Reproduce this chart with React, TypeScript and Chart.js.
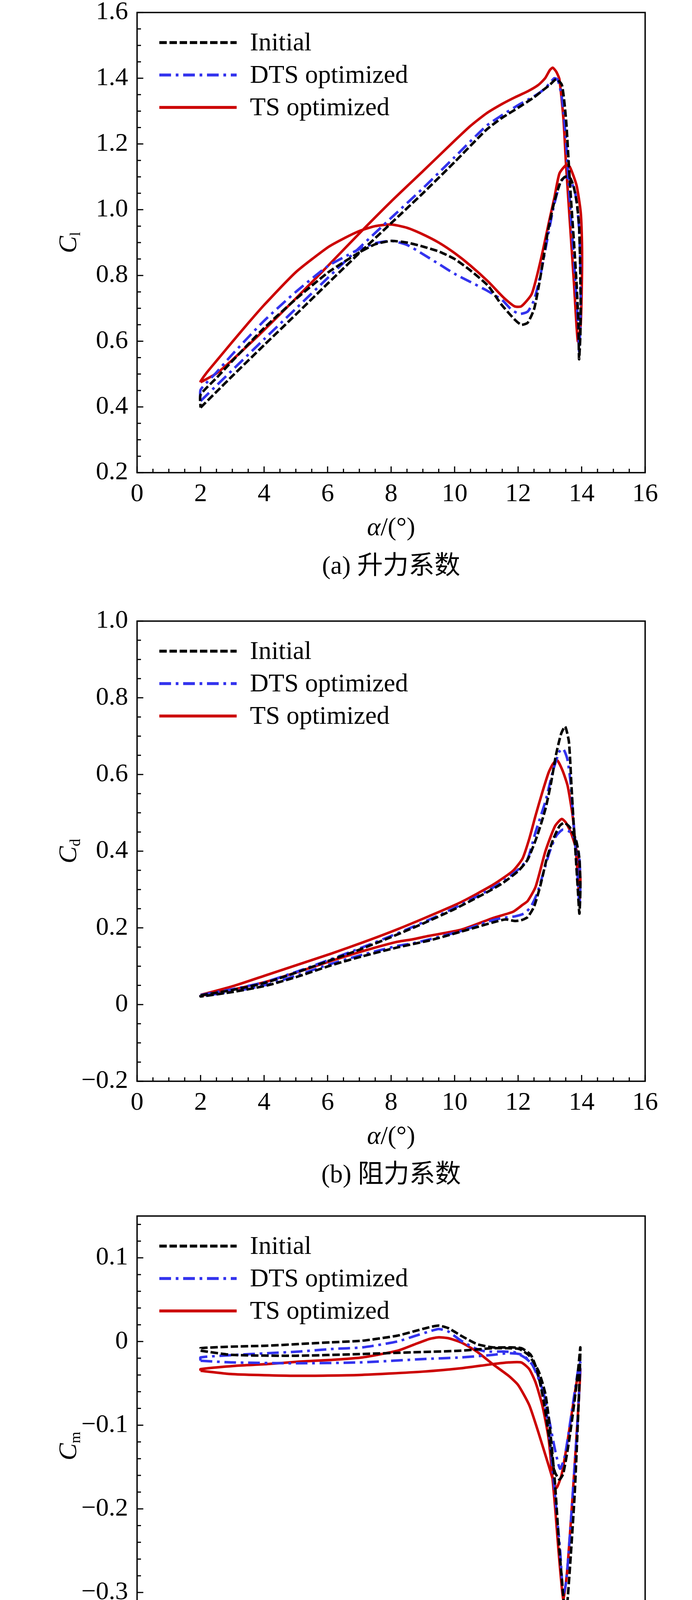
import React, { useEffect, useRef } from 'react'
import { Chart, registerables } from 'chart.js'

Chart.register(...registerables)

const SERIF = "'Liberation Serif', 'Noto Sans CJK SC', serif"

// series shown in every panel
const seriesNames = ['Initial', 'DTS optimized', 'TS optimized']
const seriesColors = ['#000000', '#3333ee', '#cc0000']
const seriesDashes = [[19, 7], [30, 12, 7, 12], []]

// shared x axis
const xTicks = [0, 2, 4, 6, 8, 10, 12, 14, 16]
const xTickLabels = ['0', '2', '4', '6', '8', '10', '12', '14', '16']

// (a) lift coefficient, [alpha, Cl] around each loop
const clInitial: [number, number][] = [
  [2, 0.398], [2.5, 0.446], [3, 0.494], [4, 0.588], [5, 0.681], [6, 0.775], [7, 0.868], [8, 0.959],
  [9, 1.05], [10, 1.145], [11, 1.243], [11.5, 1.28], [12, 1.31], [12.5, 1.342], [12.8, 1.365],
  [13, 1.38], [13.2, 1.397], [13.38, 1.379], [13.51, 1.273], [13.59, 1.148], [13.67, 1.024],
  [13.76, 0.899], [13.84, 0.775], [13.9, 0.65], [13.92, 0.545], [13.96, 0.62], [13.97, 0.712],
  [13.95, 0.85], [13.92, 0.95], [13.85, 1.02], [13.75, 1.07], [13.65, 1.095], [13.55, 1.102],
  [13.45, 1.098], [13.34, 1.086], [13.14, 1.024], [12.93, 0.93], [12.72, 0.806], [12.51, 0.7],
  [12.3, 0.656], [12.1, 0.65], [11.9, 0.665], [11.47, 0.712], [11.06, 0.768], [10.5, 0.815],
  [10, 0.85], [9.5, 0.873], [9, 0.888], [8.5, 0.9], [8, 0.905], [7.5, 0.895], [7, 0.87],
  [6.5, 0.84], [6, 0.808], [5, 0.728], [4, 0.64], [3, 0.54], [2.5, 0.488], [2, 0.437], [2, 0.398],
]
const clDts: [number, number][] = [
  [2, 0.418], [2.5, 0.465], [3, 0.512], [4, 0.606], [5, 0.699], [6, 0.792], [7, 0.884], [8, 0.975],
  [9, 1.065], [10, 1.16], [11, 1.255], [11.5, 1.288], [12, 1.318], [12.5, 1.345], [12.8, 1.365],
  [13, 1.385], [13.14, 1.4], [13.25, 1.395], [13.38, 1.34], [13.5, 1.22], [13.58, 1.1],
  [13.66, 0.98], [13.75, 0.86], [13.83, 0.74], [13.9, 0.63], [13.92, 0.569], [13.96, 0.65],
  [13.97, 0.75], [13.95, 0.87], [13.9, 0.97], [13.8, 1.05], [13.65, 1.09], [13.47, 1.1],
  [13.3, 1.075], [13.1, 1.0], [12.9, 0.9], [12.7, 0.8], [12.5, 0.725], [12.3, 0.69], [12.05, 0.683],
  [11.8, 0.695], [11.5, 0.725], [11, 0.755], [10.5, 0.78], [10, 0.805], [9.5, 0.835], [9, 0.865],
  [8.5, 0.893], [8, 0.905], [7.5, 0.898], [7, 0.88], [6.5, 0.855], [6, 0.828], [5, 0.75],
  [4, 0.662], [3, 0.56], [2.5, 0.505], [2, 0.452], [2, 0.418],
]
const clTs: [number, number][] = [
  [2, 0.475], [2.5, 0.502], [3, 0.543], [4, 0.634], [5, 0.73], [6, 0.828], [7, 0.928], [8, 1.025],
  [9, 1.117], [10, 1.21], [10.5, 1.255], [11, 1.293], [11.5, 1.322], [11.9, 1.342], [12.3, 1.36],
  [12.63, 1.379], [12.85, 1.4], [13, 1.425], [13.09, 1.432], [13.2, 1.42], [13.3, 1.397],
  [13.43, 1.273], [13.51, 1.136], [13.63, 0.962], [13.76, 0.775], [13.88, 0.6], [13.97, 0.65],
  [14.01, 0.8], [14.01, 0.899], [13.97, 0.993], [13.84, 1.074], [13.63, 1.13], [13.51, 1.136],
  [13.3, 1.11], [13.14, 1.036], [12.97, 0.962], [12.72, 0.85], [12.43, 0.744], [12.1, 0.706],
  [11.89, 0.706], [11.56, 0.731], [11.06, 0.781], [10.5, 0.83], [10, 0.868], [9.5, 0.9],
  [9, 0.925], [8.5, 0.945], [8, 0.955], [7.5, 0.95], [7, 0.935], [6.5, 0.912], [6, 0.885],
  [5, 0.81], [4, 0.71], [3.5, 0.655], [3, 0.598], [2.5, 0.54], [2.2, 0.505], [2, 0.478],
  [2, 0.475],
]
const clTicks = [0.2, 0.4, 0.6, 0.8, 1.0, 1.2, 1.4, 1.6]
const clTickLabels = ['0.2', '0.4', '0.6', '0.8', '1.0', '1.2', '1.4', '1.6']

// (b) drag coefficient, [alpha, Cd]
const cdInitial: [number, number][] = [
  [2, 0.024], [3, 0.038], [4, 0.056], [5, 0.083], [6, 0.113], [7, 0.143], [8, 0.176], [9, 0.211],
  [10, 0.249], [11, 0.292], [11.5, 0.316], [12, 0.348], [12.3, 0.378], [12.6, 0.44], [12.86, 0.51],
  [13.03, 0.575], [13.19, 0.65], [13.35, 0.705], [13.48, 0.725], [13.6, 0.685], [13.68, 0.57],
  [13.75, 0.47], [13.82, 0.38], [13.88, 0.3], [13.93, 0.237], [13.96, 0.3], [13.93, 0.38],
  [13.82, 0.43], [13.62, 0.463], [13.45, 0.474], [13.3, 0.465], [13.1, 0.43], [12.9, 0.38],
  [12.7, 0.31], [12.5, 0.255], [12.3, 0.228], [12.1, 0.22], [11.9, 0.218], [11.6, 0.222],
  [11.2, 0.214], [10.2, 0.19], [9.2, 0.167], [8.2, 0.149], [7.1, 0.126], [6.1, 0.102],
  [5.1, 0.074], [4.1, 0.05], [3.1, 0.034], [2, 0.021], [2, 0.024],
]
const cdDts: [number, number][] = [
  [2, 0.025], [3, 0.04], [4, 0.058], [5, 0.085], [6, 0.115], [7, 0.146], [8, 0.179], [9, 0.214],
  [10, 0.252], [11, 0.295], [11.5, 0.32], [12, 0.352], [12.3, 0.38], [12.55, 0.45], [12.86, 0.53],
  [13.1, 0.61], [13.3, 0.66], [13.42, 0.667], [13.55, 0.64], [13.65, 0.58], [13.72, 0.5],
  [13.8, 0.42], [13.87, 0.34], [13.93, 0.26], [13.96, 0.32], [13.92, 0.39], [13.8, 0.43],
  [13.6, 0.452], [13.4, 0.456], [13.2, 0.44], [13, 0.4], [12.8, 0.345], [12.6, 0.29], [12.4, 0.255],
  [12.2, 0.238], [11.9, 0.23], [11.6, 0.227], [11.2, 0.22], [10.2, 0.192], [9.2, 0.17],
  [8.7, 0.16], [8.2, 0.153], [7.1, 0.13], [6.1, 0.106], [5.1, 0.078], [4.1, 0.052], [3.1, 0.035],
  [2, 0.022], [2, 0.025],
]
const cdTs: [number, number][] = [
  [2, 0.025], [3.06, 0.049], [4.08, 0.077], [5.1, 0.105], [6.12, 0.133], [7.14, 0.163],
  [8.16, 0.195], [9.18, 0.23], [10.2, 0.267], [11.2, 0.312], [11.84, 0.349], [12.14, 0.381],
  [12.35, 0.432], [12.55, 0.493], [12.76, 0.553], [12.96, 0.605], [13.1, 0.628], [13.23, 0.637],
  [13.4, 0.61], [13.56, 0.57], [13.72, 0.49], [13.82, 0.4], [13.9, 0.31], [13.93, 0.265],
  [13.96, 0.33], [13.88, 0.39], [13.67, 0.447], [13.5, 0.475], [13.37, 0.484], [13.16, 0.465],
  [12.86, 0.4], [12.55, 0.307], [12.3, 0.27], [12.14, 0.26], [11.84, 0.242], [11.22, 0.226],
  [10.2, 0.195], [9.18, 0.179], [8.67, 0.17], [8.16, 0.163], [7.14, 0.14], [6.12, 0.114],
  [5.1, 0.086], [4.08, 0.06], [3.06, 0.04], [2, 0.023], [2, 0.025],
]
const cdTicks = [-0.2, 0, 0.2, 0.4, 0.6, 0.8, 1.0]
const cdTickLabels = ['\u22120.2', '0', '0.2', '0.4', '0.6', '0.8', '1.0']

// (c) moment coefficient, [alpha, Cm]
const cmInitial: [number, number][] = [
  [2, -0.011], [3, -0.016], [5, -0.017], [7, -0.015], [9, -0.0125], [10.2, -0.011], [11.2, -0.008],
  [11.7, -0.008], [12.04, -0.009], [12.35, -0.017], [12.65, -0.036], [12.86, -0.063], [13, -0.103],
  [13.16, -0.169], [13.3, -0.249], [13.45, -0.316], [13.49, -0.335], [13.57, -0.303],
  [13.67, -0.249], [13.78, -0.183], [13.86, -0.116], [13.93, -0.049], [13.96, -0.007],
  [13.9, -0.03], [13.78, -0.07], [13.6, -0.12], [13.42, -0.158], [13.3, -0.165], [13.15, -0.155],
  [13, -0.12], [12.8, -0.07], [12.6, -0.035], [12.4, -0.016], [12.1, -0.008], [11.7, -0.007],
  [11.2, -0.007], [10.7, -0.003], [10.2, 0.007], [9.8, 0.016], [9.5, 0.019], [9.2, 0.017],
  [8.7, 0.012], [8.2, 0.007], [7.1, 0.001], [6.1, -0.001], [5.1, -0.003], [4.1, -0.005],
  [3.1, -0.006], [2, -0.008], [2, -0.011],
]
const cmDts: [number, number][] = [
  [2, -0.023], [3, -0.025], [5, -0.026], [7, -0.025], [9, -0.021], [10.2, -0.019], [11.2, -0.016],
  [11.7, -0.014], [12.14, -0.016], [12.45, -0.028], [12.76, -0.057], [12.96, -0.103],
  [13.16, -0.183], [13.32, -0.249], [13.42, -0.303], [13.5, -0.29], [13.57, -0.263],
  [13.72, -0.183], [13.88, -0.089], [13.96, -0.025], [13.88, -0.036], [13.67, -0.089],
  [13.47, -0.137], [13.32, -0.152], [13.16, -0.129], [12.96, -0.09], [12.76, -0.055], [12.5, -0.03],
  [12.24, -0.02], [11.9, -0.013], [11.5, -0.012], [11, -0.012], [10.7, -0.009], [10.2, 0.001],
  [9.8, 0.012], [9.5, 0.015], [9.2, 0.012], [8.7, 0.006], [8.2, 0], [7.1, -0.007], [6.1, -0.009],
  [5.1, -0.012], [4.1, -0.014], [3.1, -0.016], [2, -0.019], [2, -0.023],
]
const cmTs: [number, number][] = [
  [2, -0.035], [3, -0.039], [5, -0.041], [7, -0.04], [9, -0.036], [10.2, -0.032], [11.2, -0.027],
  [11.7, -0.025], [12.1, -0.025], [12.35, -0.033], [12.55, -0.049], [12.76, -0.076],
  [12.96, -0.116], [13.16, -0.196], [13.27, -0.249], [13.42, -0.308], [13.5, -0.29],
  [13.57, -0.263], [13.72, -0.183], [13.88, -0.089], [13.96, -0.033], [13.93, -0.031],
  [13.78, -0.063], [13.57, -0.116], [13.37, -0.159], [13.2, -0.175], [12.96, -0.148],
  [12.65, -0.11], [12.35, -0.076], [12, -0.052], [11.7, -0.041], [11.2, -0.027], [10.7, -0.012],
  [10.2, -0.001], [9.8, 0.004], [9.5, 0.005], [9.2, 0.003], [8.7, -0.004], [8.2, -0.011],
  [7.1, -0.019], [6.1, -0.022], [5.1, -0.024], [4.1, -0.027], [3.1, -0.029], [2, -0.033],
  [2, -0.035],
]
const cmTicks = [-0.4, -0.3, -0.2, -0.1, 0, 0.1]
const cmTickLabels = ['\u22120.4', '\u22120.3', '\u22120.2', '\u22120.1', '0', '0.1']

type Panel = {
  top: number
  sub: string
  caption: string
  yMin: number
  yMax: number
  yTicks: number[]
  yTickLabels: string[]
  yMinor: number
  series: [number, number][][]
}

const panels: Panel[] = [
  { top: 32, sub: 'l', caption: '(a) 升力系数', yMin: 0.2, yMax: 1.6, yTicks: clTicks, yTickLabels: clTickLabels, yMinor: 0.05, series: [clInitial, clDts, clTs] },
  { top: 1590, sub: 'd', caption: '(b) 阻力系数', yMin: -0.2, yMax: 1.0, yTicks: cdTicks, yTickLabels: cdTickLabels, yMinor: 0.05, series: [cdInitial, cdDts, cdTs] },
  { top: 3113, sub: 'm', caption: '(c) 力矩系数', yMin: -0.4, yMax: 0.15, yTicks: cmTicks, yTickLabels: cmTickLabels, yMinor: 0.02, series: [cmInitial, cmDts, cmTs] },
]

const W = 1772
const PAD_TOP = 60
const PLOT_H = 1178
const X_AXIS_H = 100
const PAD_BOTTOM = 200
const H = PAD_TOP + PLOT_H + X_AXIS_H + PAD_BOTTOM

const decorPlugin = (p: Panel) => ({
  id: 'decor',
  afterDraw(chart: any) {
    const { ctx, chartArea: a, scales } = chart
    const xs = scales.x
    const ys = scales.y
    ctx.save()
    ctx.strokeStyle = '#000'
    ctx.fillStyle = '#000'
    ctx.setLineDash([])

    // ticks pointing inwards, left and bottom only
    ctx.lineWidth = 3
    ctx.lineCap = 'butt'
    ctx.beginPath()
    for (let i = 0; ; i++) {
      const v = i * 0.5
      if (v > 16 + 1e-9) break
      const len = xTicks.some((t) => Math.abs(t - v) < 1e-6) ? 16 : 10
      const px = xs.getPixelForValue(v)
      ctx.moveTo(px, a.bottom)
      ctx.lineTo(px, a.bottom - len)
    }
    for (let i = 0; ; i++) {
      const v = p.yMin + i * p.yMinor
      if (v > p.yMax + 1e-9) break
      const len = p.yTicks.some((t) => Math.abs(t - v) < 1e-6) ? 16 : 10
      const py = ys.getPixelForValue(v)
      ctx.moveTo(a.left, py)
      ctx.lineTo(a.left + len, py)
    }
    ctx.stroke()

    ctx.lineWidth = 3.5
    ctx.strokeRect(a.left, a.top, a.right - a.left, a.bottom - a.top)

    // legend
    ctx.font = `66px ${SERIF}`
    ctx.textBaseline = 'middle'
    ctx.textAlign = 'left'
    seriesNames.forEach((name, i) => {
      const y = a.top + 77 + i * 83
      ctx.strokeStyle = seriesColors[i]
      ctx.lineWidth = 7.5
      ctx.setLineDash(seriesDashes[i])
      ctx.beginPath()
      ctx.moveTo(408, y)
      ctx.lineTo(606, y)
      ctx.stroke()
      ctx.setLineDash([])
      ctx.fillText(name, 640, y + 3)
    })

    // y title C with subscript
    const cy = (a.top + a.bottom) / 2
    ctx.save()
    ctx.translate(195, cy)
    ctx.rotate(-Math.PI / 2)
    ctx.textBaseline = 'alphabetic'
    ctx.font = `italic 66px ${SERIF}`
    const wC = ctx.measureText('C').width
    ctx.font = `38px ${SERIF}`
    const wS = ctx.measureText(p.sub).width
    const x0 = -(wC + wS) / 2
    ctx.font = `italic 66px ${SERIF}`
    ctx.fillText('C', x0, 0)
    ctx.font = `38px ${SERIF}`
    ctx.fillText(p.sub, x0 + wC, 10)
    ctx.restore()

    // x title
    const cx = (a.left + a.right) / 2
    ctx.textBaseline = 'middle'
    ctx.font = `italic 66px ${SERIF}`
    const wa = ctx.measureText('α').width
    ctx.font = `66px ${SERIF}`
    const wr = ctx.measureText('/(°)').width
    const xa = cx - (wa + wr) / 2
    ctx.font = `italic 66px ${SERIF}`
    ctx.fillText('α', xa, a.bottom + 143)
    ctx.font = `66px ${SERIF}`
    ctx.fillText('/(°)', xa + wa, a.bottom + 143)

    // caption
    ctx.textAlign = 'center'
    ctx.fillText(p.caption, cx, a.bottom + 242)
    ctx.restore()
  },
})

const PanelChart: React.FC<{ panel: Panel }> = ({ panel }) => {
  const ref = useRef<HTMLCanvasElement | null>(null)

  useEffect(() => {
    if (!ref.current) return
    const chart = new Chart(ref.current, {
      type: 'scatter',
      data: {
        datasets: panel.series.map((pts, i) => ({
          label: seriesNames[i],
          data: pts.map(([x, y]) => ({ x, y })),
          showLine: true,
          borderColor: seriesColors[i],
          backgroundColor: seriesColors[i],
          borderDash: seriesDashes[i],
          borderWidth: 6.5,
          borderCapStyle: 'butt',
          borderJoinStyle: 'round',
          pointRadius: 0,
          tension: 0.2,
        })),
      },
      options: {
        animation: false,
        responsive: false,
        devicePixelRatio: 1,
        layout: { padding: { top: PAD_TOP, right: W - 1652, bottom: PAD_BOTTOM, left: 0 } },
        plugins: { legend: { display: false }, tooltip: { enabled: false } },
        scales: {
          x: {
            type: 'linear',
            position: 'bottom',
            min: 0,
            max: 16,
            grid: { display: false, drawTicks: false },
            border: { display: false },
            ticks: {
              autoSkip: false,
              maxRotation: 0,
              padding: 16,
              color: '#000',
              font: { family: SERIF, size: 66 },
              callback: (_v: any, i: number) => xTickLabels[i],
            },
            afterBuildTicks: (s: any) => {
              s.ticks = xTicks.map((value) => ({ value }))
            },
            afterFit: (s: any) => {
              s.height = X_AXIS_H
              s.paddingLeft = 0
              s.paddingRight = 0
            },
          },
          y: {
            type: 'linear',
            min: panel.yMin,
            max: panel.yMax,
            grid: { display: false, drawTicks: false },
            border: { display: false },
            ticks: {
              autoSkip: false,
              padding: 23,
              color: '#000',
              font: { family: SERIF, size: 66 },
              callback: (_v: any, i: number) => panel.yTickLabels[i],
            },
            afterBuildTicks: (s: any) => {
              s.ticks = panel.yTicks.map((value) => ({ value }))
            },
            afterFit: (s: any) => {
              s.width = 351
              s.paddingTop = 0
              s.paddingBottom = 0
            },
          },
        },
      },
      plugins: [decorPlugin(panel)],
    } as any)
    return () => chart.destroy()
  }, [panel])

  return (
    <canvas
      ref={ref}
      width={W}
      height={H}
      style={{ position: 'absolute', left: 0, top: panel.top - PAD_TOP, width: W, height: H }}
    />
  )
}

export default function App() {
  return (
    <div
      style={{
        position: 'absolute',
        left: 0,
        top: 0,
        width: W,
        height: 4571,
        overflow: 'hidden',
        background: '#fff',
      }}
    >
      {panels.map((p) => (
        <PanelChart key={p.caption} panel={p} />
      ))}
    </div>
  )
}
